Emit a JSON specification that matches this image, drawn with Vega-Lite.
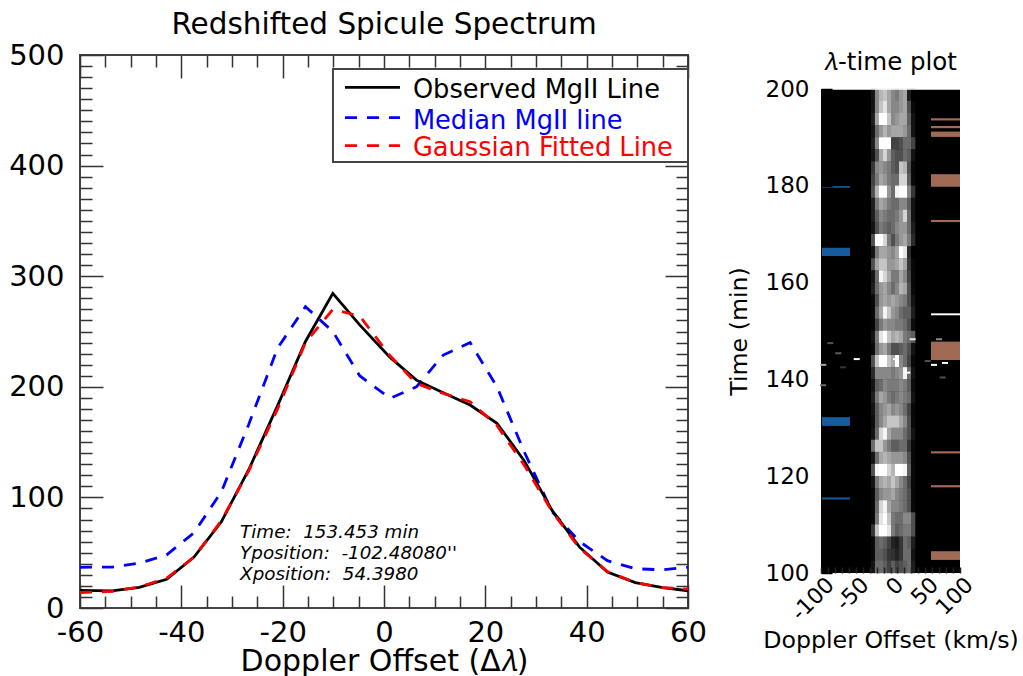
{"$schema":"https://vega.github.io/schema/vega-lite/v6.json","padding":{"left":7,"top":8,"right":0,"bottom":0},"background":"white","spacing":19,
"config":{"font":"DejaVu Sans","axis":{"domain":false,"grid":false,"labelFont":"DejaVu Sans","titleFont":"DejaVu Sans","labelColor":"black","titleColor":"black","titleFontWeight":"normal","labelOverlap":false,"labelFlush":false,"labelBound":false,"tickColor":"#333333","tickWidth":1.5}},
"datasets":{"spectrum":[
{"x":-60,"y":16,"s":"obs"},{"x":-53.7,"y":15.5,"s":"obs"},{"x":-48.3,"y":18.7,"s":"obs"},{"x":-42.9,"y":26,"s":"obs"},{"x":-37.5,"y":46,"s":"obs"},{"x":-32.1,"y":78,"s":"obs"},{"x":-26.7,"y":125,"s":"obs"},{"x":-21,"y":183,"s":"obs"},{"x":-15.5,"y":241,"s":"obs"},{"x":-10.1,"y":284.5,"s":"obs"},{"x":-4.8,"y":256,"s":"obs"},{"x":1.2,"y":226.6,"s":"obs"},{"x":6.4,"y":206,"s":"obs"},{"x":11.7,"y":194.7,"s":"obs"},{"x":17,"y":183.5,"s":"obs"},{"x":22.3,"y":167,"s":"obs"},{"x":27.7,"y":133,"s":"obs"},{"x":33.2,"y":88,"s":"obs"},{"x":38.6,"y":55,"s":"obs"},{"x":44.1,"y":32.5,"s":"obs"},{"x":49.6,"y":23,"s":"obs"},{"x":55,"y":18.5,"s":"obs"},{"x":60,"y":15.6,"s":"obs"},
{"x":-60,"y":36.8,"s":"med"},{"x":-53.7,"y":37,"s":"med"},{"x":-48.3,"y":40.5,"s":"med"},{"x":-42.9,"y":48,"s":"med"},{"x":-37.5,"y":68,"s":"med"},{"x":-32.1,"y":105,"s":"med"},{"x":-26.7,"y":166,"s":"med"},{"x":-21,"y":235,"s":"med"},{"x":-15.5,"y":272.4,"s":"med"},{"x":-10.1,"y":250,"s":"med"},{"x":-4.8,"y":210,"s":"med"},{"x":1.2,"y":189.6,"s":"med"},{"x":6.4,"y":200,"s":"med"},{"x":11.7,"y":228.7,"s":"med"},{"x":17,"y":240,"s":"med"},{"x":22.3,"y":200,"s":"med"},{"x":27.7,"y":141,"s":"med"},{"x":33.2,"y":87,"s":"med"},{"x":38.6,"y":60,"s":"med"},{"x":44.1,"y":42.8,"s":"med"},{"x":49.6,"y":35.5,"s":"med"},{"x":55,"y":34.5,"s":"med"},{"x":60,"y":36.8,"s":"med"},
{"x":-60,"y":14,"s":"fit"},{"x":-53.7,"y":15,"s":"fit"},{"x":-48.3,"y":19,"s":"fit"},{"x":-42.9,"y":27,"s":"fit"},{"x":-37.5,"y":46,"s":"fit"},{"x":-32.1,"y":79,"s":"fit"},{"x":-26.7,"y":124,"s":"fit"},{"x":-21,"y":180,"s":"fit"},{"x":-15.5,"y":240,"s":"fit"},{"x":-10.1,"y":270,"s":"fit"},{"x":-4.8,"y":264,"s":"fit"},{"x":1.2,"y":228,"s":"fit"},{"x":6.4,"y":203,"s":"fit"},{"x":11.7,"y":194,"s":"fit"},{"x":17,"y":186.5,"s":"fit"},{"x":22.3,"y":165,"s":"fit"},{"x":27.7,"y":129,"s":"fit"},{"x":33.2,"y":87,"s":"fit"},{"x":38.6,"y":54,"s":"fit"},{"x":44.1,"y":33,"s":"fit"},{"x":49.6,"y":23,"s":"fit"},{"x":55,"y":18.5,"s":"fit"},{"x":60,"y":17,"s":"fit"}],
"cells":[
{"d":-25,"t":198.75,"v":0.05},{"d":-19.3,"t":198.75,"v":0.5},{"d":-13.5,"t":198.75,"v":0.65},{"d":-7.7,"t":198.75,"v":0.7},{"d":-2,"t":198.75,"v":0.6},{"d":3.8,"t":198.75,"v":0.5},{"d":9.6,"t":198.75,"v":0.45},{"d":15.3,"t":198.75,"v":0.55},{"d":21.1,"t":198.75,"v":0.6},{"d":26.8,"t":198.75,"v":0.1},{"d":32.6,"t":198.75,"v":0},
{"d":-25,"t":196.25,"v":0.05},{"d":-19.3,"t":196.25,"v":0.5},{"d":-13.5,"t":196.25,"v":0.7},{"d":-7.7,"t":196.25,"v":0.8},{"d":-2,"t":196.25,"v":0.6},{"d":3.8,"t":196.25,"v":0.5},{"d":9.6,"t":196.25,"v":0.5},{"d":15.3,"t":196.25,"v":0.55},{"d":21.1,"t":196.25,"v":0.6},{"d":26.8,"t":196.25,"v":0.3},{"d":32.6,"t":196.25,"v":0.02},
{"d":-25,"t":193.75,"v":0.1},{"d":-19.3,"t":193.75,"v":0.6},{"d":-13.5,"t":193.75,"v":0.9},{"d":-7.7,"t":193.75,"v":1},{"d":-2,"t":193.75,"v":0.7},{"d":3.8,"t":193.75,"v":0.5},{"d":9.6,"t":193.75,"v":0.55},{"d":15.3,"t":193.75,"v":0.6},{"d":21.1,"t":193.75,"v":0.6},{"d":26.8,"t":193.75,"v":0.35},{"d":32.6,"t":193.75,"v":0.05},
{"d":-25,"t":191.25,"v":0.05},{"d":-19.3,"t":191.25,"v":0.4},{"d":-13.5,"t":191.25,"v":0.55},{"d":-7.7,"t":191.25,"v":0.65},{"d":-2,"t":191.25,"v":0.55},{"d":3.8,"t":191.25,"v":0.6},{"d":9.6,"t":191.25,"v":0.6},{"d":15.3,"t":191.25,"v":0.6},{"d":21.1,"t":191.25,"v":0.55},{"d":26.8,"t":191.25,"v":0.4},{"d":32.6,"t":191.25,"v":0.05},
{"d":-25,"t":188.75,"v":0.1},{"d":-19.3,"t":188.75,"v":0.5},{"d":-13.5,"t":188.75,"v":0.95},{"d":-7.7,"t":188.75,"v":1},{"d":-2,"t":188.75,"v":0.9},{"d":3.8,"t":188.75,"v":0.25},{"d":9.6,"t":188.75,"v":0.25},{"d":15.3,"t":188.75,"v":0.3},{"d":21.1,"t":188.75,"v":0.4},{"d":26.8,"t":188.75,"v":0.4},{"d":32.6,"t":188.75,"v":0.25},
{"d":-25,"t":186.25,"v":0.05},{"d":-19.3,"t":186.25,"v":0.3},{"d":-13.5,"t":186.25,"v":0.6},{"d":-7.7,"t":186.25,"v":0.75},{"d":-2,"t":186.25,"v":0.55},{"d":3.8,"t":186.25,"v":0.35},{"d":9.6,"t":186.25,"v":0.3},{"d":15.3,"t":186.25,"v":0.3},{"d":21.1,"t":186.25,"v":0.4},{"d":26.8,"t":186.25,"v":0.35},{"d":32.6,"t":186.25,"v":0.05},
{"d":-25,"t":183.75,"v":0.2},{"d":-19.3,"t":183.75,"v":0.5},{"d":-13.5,"t":183.75,"v":0.55},{"d":-7.7,"t":183.75,"v":0.5},{"d":-2,"t":183.75,"v":0.45},{"d":3.8,"t":183.75,"v":0.35},{"d":9.6,"t":183.75,"v":0.3},{"d":15.3,"t":183.75,"v":0.7},{"d":21.1,"t":183.75,"v":0.65},{"d":26.8,"t":183.75,"v":0.3},{"d":32.6,"t":183.75,"v":0.02},
{"d":-25,"t":181.25,"v":0.25},{"d":-19.3,"t":181.25,"v":0.45},{"d":-13.5,"t":181.25,"v":0.6},{"d":-7.7,"t":181.25,"v":0.55},{"d":-2,"t":181.25,"v":0.45},{"d":3.8,"t":181.25,"v":0.4},{"d":9.6,"t":181.25,"v":0.4},{"d":15.3,"t":181.25,"v":0.75},{"d":21.1,"t":181.25,"v":0.75},{"d":26.8,"t":181.25,"v":0.35},{"d":32.6,"t":181.25,"v":0.02},
{"d":-25,"t":178.75,"v":0.3},{"d":-19.3,"t":178.75,"v":0.65},{"d":-13.5,"t":178.75,"v":0.95},{"d":-7.7,"t":178.75,"v":0.9},{"d":-2,"t":178.75,"v":0.55},{"d":3.8,"t":178.75,"v":0.4},{"d":9.6,"t":178.75,"v":0.85},{"d":15.3,"t":178.75,"v":1},{"d":21.1,"t":178.75,"v":0.95},{"d":26.8,"t":178.75,"v":0.5},{"d":32.6,"t":178.75,"v":0.2},
{"d":-25,"t":176.25,"v":0.1},{"d":-19.3,"t":176.25,"v":0.45},{"d":-13.5,"t":176.25,"v":0.6},{"d":-7.7,"t":176.25,"v":0.55},{"d":-2,"t":176.25,"v":0.45},{"d":3.8,"t":176.25,"v":0.4},{"d":9.6,"t":176.25,"v":0.4},{"d":15.3,"t":176.25,"v":0.5},{"d":21.1,"t":176.25,"v":0.5},{"d":26.8,"t":176.25,"v":0.35},{"d":32.6,"t":176.25,"v":0.05},
{"d":-25,"t":173.75,"v":0.1},{"d":-19.3,"t":173.75,"v":0.35},{"d":-13.5,"t":173.75,"v":0.5},{"d":-7.7,"t":173.75,"v":0.45},{"d":-2,"t":173.75,"v":0.4},{"d":3.8,"t":173.75,"v":0.4},{"d":9.6,"t":173.75,"v":0.45},{"d":15.3,"t":173.75,"v":0.55},{"d":21.1,"t":173.75,"v":0.75},{"d":26.8,"t":173.75,"v":0.4},{"d":32.6,"t":173.75,"v":0.05},
{"d":-25,"t":171.25,"v":0.05},{"d":-19.3,"t":171.25,"v":0.3},{"d":-13.5,"t":171.25,"v":0.45},{"d":-7.7,"t":171.25,"v":0.4},{"d":-2,"t":171.25,"v":0.35},{"d":3.8,"t":171.25,"v":0.4},{"d":9.6,"t":171.25,"v":0.5},{"d":15.3,"t":171.25,"v":0.55},{"d":21.1,"t":171.25,"v":0.55},{"d":26.8,"t":171.25,"v":0.4},{"d":32.6,"t":171.25,"v":0.1},
{"d":-25,"t":168.75,"v":0.3},{"d":-19.3,"t":168.75,"v":0.9},{"d":-13.5,"t":168.75,"v":0.95},{"d":-7.7,"t":168.75,"v":0.75},{"d":-2,"t":168.75,"v":0.45},{"d":3.8,"t":168.75,"v":0.3},{"d":9.6,"t":168.75,"v":0.45},{"d":15.3,"t":168.75,"v":0.55},{"d":21.1,"t":168.75,"v":0.6},{"d":26.8,"t":168.75,"v":0.45},{"d":32.6,"t":168.75,"v":0.15},
{"d":-25,"t":166.25,"v":0.05},{"d":-19.3,"t":166.25,"v":0.45},{"d":-13.5,"t":166.25,"v":0.6},{"d":-7.7,"t":166.25,"v":0.6},{"d":-2,"t":166.25,"v":0.55},{"d":3.8,"t":166.25,"v":0.5},{"d":9.6,"t":166.25,"v":0.6},{"d":15.3,"t":166.25,"v":0.9},{"d":21.1,"t":166.25,"v":0.8},{"d":26.8,"t":166.25,"v":0.15},{"d":32.6,"t":166.25,"v":0},
{"d":-25,"t":163.75,"v":0.3},{"d":-19.3,"t":163.75,"v":0.6},{"d":-13.5,"t":163.75,"v":0.7},{"d":-7.7,"t":163.75,"v":0.7},{"d":-2,"t":163.75,"v":0.55},{"d":3.8,"t":163.75,"v":0.55},{"d":9.6,"t":163.75,"v":0.6},{"d":15.3,"t":163.75,"v":0.7},{"d":21.1,"t":163.75,"v":0.6},{"d":26.8,"t":163.75,"v":0.2},{"d":32.6,"t":163.75,"v":0.02},
{"d":-25,"t":161.25,"v":0.05},{"d":-19.3,"t":161.25,"v":0.4},{"d":-13.5,"t":161.25,"v":0.85},{"d":-7.7,"t":161.25,"v":0.75},{"d":-2,"t":161.25,"v":0.6},{"d":3.8,"t":161.25,"v":0.45},{"d":9.6,"t":161.25,"v":0.45},{"d":15.3,"t":161.25,"v":0.6},{"d":21.1,"t":161.25,"v":0.5},{"d":26.8,"t":161.25,"v":0.25},{"d":32.6,"t":161.25,"v":0.02},
{"d":-25,"t":158.75,"v":0.1},{"d":-19.3,"t":158.75,"v":0.4},{"d":-13.5,"t":158.75,"v":0.55},{"d":-7.7,"t":158.75,"v":0.6},{"d":-2,"t":158.75,"v":0.5},{"d":3.8,"t":158.75,"v":0.4},{"d":9.6,"t":158.75,"v":0.5},{"d":15.3,"t":158.75,"v":0.65},{"d":21.1,"t":158.75,"v":0.6},{"d":26.8,"t":158.75,"v":0.3},{"d":32.6,"t":158.75,"v":0.02},
{"d":-25,"t":156.25,"v":0.02},{"d":-19.3,"t":156.25,"v":0.3},{"d":-13.5,"t":156.25,"v":0.55},{"d":-7.7,"t":156.25,"v":0.6},{"d":-2,"t":156.25,"v":0.55},{"d":3.8,"t":156.25,"v":0.6},{"d":9.6,"t":156.25,"v":0.55},{"d":15.3,"t":156.25,"v":0.5},{"d":21.1,"t":156.25,"v":0.45},{"d":26.8,"t":156.25,"v":0.3},{"d":32.6,"t":156.25,"v":0.05},
{"d":-25,"t":153.75,"v":0.02},{"d":-19.3,"t":153.75,"v":0.4},{"d":-13.5,"t":153.75,"v":0.6},{"d":-7.7,"t":153.75,"v":0.85},{"d":-2,"t":153.75,"v":0.7},{"d":3.8,"t":153.75,"v":0.55},{"d":9.6,"t":153.75,"v":0.5},{"d":15.3,"t":153.75,"v":0.4},{"d":21.1,"t":153.75,"v":0.35},{"d":26.8,"t":153.75,"v":0.35},{"d":32.6,"t":153.75,"v":0.1},
{"d":-25,"t":151.25,"v":0.01},{"d":-19.3,"t":151.25,"v":0.25},{"d":-13.5,"t":151.25,"v":0.45},{"d":-7.7,"t":151.25,"v":0.55},{"d":-2,"t":151.25,"v":0.5},{"d":3.8,"t":151.25,"v":0.5},{"d":9.6,"t":151.25,"v":0.45},{"d":15.3,"t":151.25,"v":0.45},{"d":21.1,"t":151.25,"v":0.4},{"d":26.8,"t":151.25,"v":0.3},{"d":32.6,"t":151.25,"v":0.03},
{"d":-25,"t":148.75,"v":0.05},{"d":-19.3,"t":148.75,"v":0.45},{"d":-13.5,"t":148.75,"v":0.8},{"d":-7.7,"t":148.75,"v":0.95},{"d":-2,"t":148.75,"v":0.7},{"d":3.8,"t":148.75,"v":0.6},{"d":9.6,"t":148.75,"v":0.65},{"d":15.3,"t":148.75,"v":0.6},{"d":21.1,"t":148.75,"v":0.45},{"d":26.8,"t":148.75,"v":0.4},{"d":32.6,"t":148.75,"v":0.35},
{"d":-25,"t":146.25,"v":0.02},{"d":-19.3,"t":146.25,"v":0.4},{"d":-13.5,"t":146.25,"v":0.55},{"d":-7.7,"t":146.25,"v":0.6},{"d":-2,"t":146.25,"v":0.45},{"d":3.8,"t":146.25,"v":0.3},{"d":9.6,"t":146.25,"v":0.3},{"d":15.3,"t":146.25,"v":0.35},{"d":21.1,"t":146.25,"v":0.4},{"d":26.8,"t":146.25,"v":0.3},{"d":32.6,"t":146.25,"v":0.05},
{"d":-25,"t":143.75,"v":0.3},{"d":-19.3,"t":143.75,"v":0.7},{"d":-13.5,"t":143.75,"v":0.9},{"d":-7.7,"t":143.75,"v":0.95},{"d":-2,"t":143.75,"v":0.7},{"d":3.8,"t":143.75,"v":0.6},{"d":9.6,"t":143.75,"v":0.9},{"d":15.3,"t":143.75,"v":0.5},{"d":21.1,"t":143.75,"v":0.4},{"d":26.8,"t":143.75,"v":0.25},{"d":32.6,"t":143.75,"v":0.02},
{"d":-25,"t":141.25,"v":0.15},{"d":-19.3,"t":141.25,"v":0.5},{"d":-13.5,"t":141.25,"v":0.5},{"d":-7.7,"t":141.25,"v":0.5},{"d":-2,"t":141.25,"v":0.5},{"d":3.8,"t":141.25,"v":0.45},{"d":9.6,"t":141.25,"v":0.5},{"d":15.3,"t":141.25,"v":0.55},{"d":21.1,"t":141.25,"v":0.85},{"d":26.8,"t":141.25,"v":0.4},{"d":32.6,"t":141.25,"v":0.05},
{"d":-25,"t":138.75,"v":0.05},{"d":-19.3,"t":138.75,"v":0.35},{"d":-13.5,"t":138.75,"v":0.4},{"d":-7.7,"t":138.75,"v":0.5},{"d":-2,"t":138.75,"v":0.45},{"d":3.8,"t":138.75,"v":0.45},{"d":9.6,"t":138.75,"v":0.45},{"d":15.3,"t":138.75,"v":0.5},{"d":21.1,"t":138.75,"v":0.45},{"d":26.8,"t":138.75,"v":0.35},{"d":32.6,"t":138.75,"v":0.03},
{"d":-25,"t":136.25,"v":0.1},{"d":-19.3,"t":136.25,"v":0.45},{"d":-13.5,"t":136.25,"v":0.6},{"d":-7.7,"t":136.25,"v":0.55},{"d":-2,"t":136.25,"v":0.45},{"d":3.8,"t":136.25,"v":0.4},{"d":9.6,"t":136.25,"v":0.45},{"d":15.3,"t":136.25,"v":0.5},{"d":21.1,"t":136.25,"v":0.45},{"d":26.8,"t":136.25,"v":0.4},{"d":32.6,"t":136.25,"v":0.05},
{"d":-25,"t":133.75,"v":0.05},{"d":-19.3,"t":133.75,"v":0.35},{"d":-13.5,"t":133.75,"v":0.5},{"d":-7.7,"t":133.75,"v":0.55},{"d":-2,"t":133.75,"v":0.6},{"d":3.8,"t":133.75,"v":0.5},{"d":9.6,"t":133.75,"v":0.55},{"d":15.3,"t":133.75,"v":0.5},{"d":21.1,"t":133.75,"v":0.4},{"d":26.8,"t":133.75,"v":0.25},{"d":32.6,"t":133.75,"v":0.02},
{"d":-25,"t":131.25,"v":0.03},{"d":-19.3,"t":131.25,"v":0.35},{"d":-13.5,"t":131.25,"v":0.5},{"d":-7.7,"t":131.25,"v":0.6},{"d":-2,"t":131.25,"v":0.7},{"d":3.8,"t":131.25,"v":0.7},{"d":9.6,"t":131.25,"v":0.7},{"d":15.3,"t":131.25,"v":0.6},{"d":21.1,"t":131.25,"v":0.5},{"d":26.8,"t":131.25,"v":0.3},{"d":32.6,"t":131.25,"v":0.02},
{"d":-25,"t":128.75,"v":0.05},{"d":-19.3,"t":128.75,"v":0.4},{"d":-13.5,"t":128.75,"v":0.75},{"d":-7.7,"t":128.75,"v":0.85},{"d":-2,"t":128.75,"v":0.6},{"d":3.8,"t":128.75,"v":0.5},{"d":9.6,"t":128.75,"v":0.5},{"d":15.3,"t":128.75,"v":0.5},{"d":21.1,"t":128.75,"v":0.4},{"d":26.8,"t":128.75,"v":0.3},{"d":32.6,"t":128.75,"v":0.05},
{"d":-25,"t":126.25,"v":0.4},{"d":-19.3,"t":126.25,"v":0.7},{"d":-13.5,"t":126.25,"v":0.7},{"d":-7.7,"t":126.25,"v":0.55},{"d":-2,"t":126.25,"v":0.45},{"d":3.8,"t":126.25,"v":0.35},{"d":9.6,"t":126.25,"v":0.35},{"d":15.3,"t":126.25,"v":0.4},{"d":21.1,"t":126.25,"v":0.4},{"d":26.8,"t":126.25,"v":0.2},{"d":32.6,"t":126.25,"v":0.02},
{"d":-25,"t":123.75,"v":0.05},{"d":-19.3,"t":123.75,"v":0.4},{"d":-13.5,"t":123.75,"v":0.6},{"d":-7.7,"t":123.75,"v":0.65},{"d":-2,"t":123.75,"v":0.6},{"d":3.8,"t":123.75,"v":0.55},{"d":9.6,"t":123.75,"v":0.55},{"d":15.3,"t":123.75,"v":0.55},{"d":21.1,"t":123.75,"v":0.5},{"d":26.8,"t":123.75,"v":0.3},{"d":32.6,"t":123.75,"v":0.02},
{"d":-25,"t":121.25,"v":0.3},{"d":-19.3,"t":121.25,"v":0.85},{"d":-13.5,"t":121.25,"v":1},{"d":-7.7,"t":121.25,"v":1},{"d":-2,"t":121.25,"v":0.75},{"d":3.8,"t":121.25,"v":0.65},{"d":9.6,"t":121.25,"v":0.9},{"d":15.3,"t":121.25,"v":0.9},{"d":21.1,"t":121.25,"v":0.85},{"d":26.8,"t":121.25,"v":0.35},{"d":32.6,"t":121.25,"v":0.02},
{"d":-25,"t":118.75,"v":0.05},{"d":-19.3,"t":118.75,"v":0.45},{"d":-13.5,"t":118.75,"v":0.6},{"d":-7.7,"t":118.75,"v":0.65},{"d":-2,"t":118.75,"v":0.6},{"d":3.8,"t":118.75,"v":0.7},{"d":9.6,"t":118.75,"v":0.6},{"d":15.3,"t":118.75,"v":0.5},{"d":21.1,"t":118.75,"v":0.4},{"d":26.8,"t":118.75,"v":0.25},{"d":32.6,"t":118.75,"v":0.02},
{"d":-25,"t":116.25,"v":0.02},{"d":-19.3,"t":116.25,"v":0.35},{"d":-13.5,"t":116.25,"v":0.5},{"d":-7.7,"t":116.25,"v":0.55},{"d":-2,"t":116.25,"v":0.55},{"d":3.8,"t":116.25,"v":0.6},{"d":9.6,"t":116.25,"v":0.5},{"d":15.3,"t":116.25,"v":0.45},{"d":21.1,"t":116.25,"v":0.4},{"d":26.8,"t":116.25,"v":0.3},{"d":32.6,"t":116.25,"v":0.02},
{"d":-25,"t":113.75,"v":0.02},{"d":-19.3,"t":113.75,"v":0.4},{"d":-13.5,"t":113.75,"v":0.75},{"d":-7.7,"t":113.75,"v":0.85},{"d":-2,"t":113.75,"v":0.6},{"d":3.8,"t":113.75,"v":0.5},{"d":9.6,"t":113.75,"v":0.5},{"d":15.3,"t":113.75,"v":0.45},{"d":21.1,"t":113.75,"v":0.4},{"d":26.8,"t":113.75,"v":0.3},{"d":32.6,"t":113.75,"v":0.02},
{"d":-25,"t":111.25,"v":0.02},{"d":-19.3,"t":111.25,"v":0.45},{"d":-13.5,"t":111.25,"v":0.8},{"d":-7.7,"t":111.25,"v":0.9},{"d":-2,"t":111.25,"v":0.7},{"d":3.8,"t":111.25,"v":0.45},{"d":9.6,"t":111.25,"v":0.4},{"d":15.3,"t":111.25,"v":0.4},{"d":21.1,"t":111.25,"v":0.5},{"d":26.8,"t":111.25,"v":0.5},{"d":32.6,"t":111.25,"v":0.3},
{"d":-25,"t":108.75,"v":0.2},{"d":-19.3,"t":108.75,"v":0.7},{"d":-13.5,"t":108.75,"v":1},{"d":-7.7,"t":108.75,"v":1},{"d":-2,"t":108.75,"v":0.8},{"d":3.8,"t":108.75,"v":0.45},{"d":9.6,"t":108.75,"v":0.35},{"d":15.3,"t":108.75,"v":0.4},{"d":21.1,"t":108.75,"v":0.45},{"d":26.8,"t":108.75,"v":0.45},{"d":32.6,"t":108.75,"v":0.3},
{"d":-25,"t":106.25,"v":0.02},{"d":-19.3,"t":106.25,"v":0.35},{"d":-13.5,"t":106.25,"v":0.4},{"d":-7.7,"t":106.25,"v":0.35},{"d":-2,"t":106.25,"v":0.25},{"d":3.8,"t":106.25,"v":0.12},{"d":9.6,"t":106.25,"v":0.08},{"d":15.3,"t":106.25,"v":0.2},{"d":21.1,"t":106.25,"v":0.4},{"d":26.8,"t":106.25,"v":0.35},{"d":32.6,"t":106.25,"v":0.1},
{"d":-25,"t":103.75,"v":0.02},{"d":-19.3,"t":103.75,"v":0.35},{"d":-13.5,"t":103.75,"v":0.35},{"d":-7.7,"t":103.75,"v":0.3},{"d":-2,"t":103.75,"v":0.2},{"d":3.8,"t":103.75,"v":0.18},{"d":9.6,"t":103.75,"v":0.12},{"d":15.3,"t":103.75,"v":0.2},{"d":21.1,"t":103.75,"v":0.4},{"d":26.8,"t":103.75,"v":0.4},{"d":32.6,"t":103.75,"v":0.05},
{"d":-25,"t":101.25,"v":0.05},{"d":-19.3,"t":101.25,"v":0.4},{"d":-13.5,"t":101.25,"v":0.4},{"d":-7.7,"t":101.25,"v":0.35},{"d":-2,"t":101.25,"v":0.25},{"d":3.8,"t":101.25,"v":0.35},{"d":9.6,"t":101.25,"v":0.25},{"d":15.3,"t":101.25,"v":0.3},{"d":21.1,"t":101.25,"v":0.35},{"d":26.8,"t":101.25,"v":0.4},{"d":32.6,"t":101.25,"v":0.1}],
"specks":[{"d":-86.6,"t":147.5,"v":0.3},{"d":-75.1,"t":145.4,"v":0.35},{"d":-48.6,"t":144.2,"v":1},{"d":-96.7,"t":143,"v":0.6},{"d":-68.3,"t":142.5,"v":0.2},{"d":-97,"t":138.8,"v":0.4},{"d":69.8,"t":148.3,"v":0.5},{"d":53.5,"t":143.8,"v":0.3},{"d":62.6,"t":143,"v":1},{"d":78.4,"t":143.4,"v":0.9},{"d":75.1,"t":140.4,"v":0.3},{"d":31.9,"t":148.3,"v":0.8},{"d":7.9,"t":144.2,"v":1},{"d":24.2,"t":141.4,"v":1}],
"strips":[{"a":-84,"b":100,"t0":199.85,"t1":200.1,"k":"white"},{"a":-98.6,"b":-58.3,"t0":179.6,"t1":179.95,"k":"blue"},{"a":-98.6,"b":-58.3,"t0":165.5,"t1":167.2,"k":"blue"},{"a":-98.6,"b":-58.3,"t0":130.4,"t1":132.2,"k":"blue"},{"a":-98.6,"b":-58.3,"t0":115.2,"t1":115.6,"k":"blue"},{"a":58.3,"b":100,"t0":193.5,"t1":193.95,"k":"brown"},{"a":58.3,"b":100,"t0":191.9,"t1":192.35,"k":"brown"},{"a":58.3,"b":100,"t0":190.1,"t1":191.2,"k":"brown"},{"a":58.3,"b":100,"t0":179.8,"t1":182.4,"k":"brown"},{"a":58.3,"b":100,"t0":172.5,"t1":172.95,"k":"brown"},{"a":58.3,"b":100,"t0":153.25,"t1":153.65,"k":"white"},{"a":58.3,"b":100,"t0":144,"t1":147.8,"k":"brown"},{"a":58.3,"b":100,"t0":124.7,"t1":125.15,"k":"brown"},{"a":58.3,"b":100,"t0":117.7,"t1":118.15,"k":"brown"},{"a":58.3,"b":100,"t0":102.7,"t1":104.5,"k":"brown"}]},
"hconcat":[
{"width":608,"height":553,"view":{"stroke":"#444444","strokeWidth":2,"fill":"white"},
"title":{"text":"Redshifted Spicule Spectrum","font":"DejaVu Sans","fontSize":29.5,"fontWeight":"normal","color":"black","anchor":"middle","offset":1},
"resolve":{"axis":{"x":"independent","y":"independent"}},
"layer":[
{"data":{"name":"spectrum"},"transform":[{"filter":"datum.s==='med'"}],"mark":{"type":"line","color":"#0000ff","strokeWidth":2.8,"strokeDash":[12,10]},
"encoding":{"x":{"field":"x","type":"quantitative","scale":{"domain":[-60,60],"nice":false},"axis":{"orient":"bottom","values":[-60,-40,-20,0,20,40,60],"tickSize":-23,"labelFontSize":29,"labelPadding":33,"labelExpr":"toString(datum.value)","title":"Doppler Offset (Δ𝜆)","titleFontSize":30,"titlePadding":-1}},
"y":{"field":"y","type":"quantitative","scale":{"domain":[0,500],"nice":false},"axis":{"orient":"left","values":[0,100,200,300,400,500],"tickSize":-23,"labelFontSize":29,"labelPadding":39,"labelExpr":"toString(datum.value)","title":null}}}},
{"data":{"name":"spectrum"},"transform":[{"filter":"datum.s==='obs'"}],"mark":{"type":"line","color":"black","strokeWidth":2.8},
"encoding":{"x":{"field":"x","type":"quantitative","scale":{"domain":[-60,60],"nice":false},"axis":{"orient":"bottom","values":[-55,-50,-45,-35,-30,-25,-15,-10,-5,5,10,15,25,30,35,45,50,55],"tickSize":-12,"labels":false,"title":null}},
"y":{"field":"y","type":"quantitative","scale":{"domain":[0,500],"nice":false},"axis":{"orient":"left","values":[10,20,30,40,50,60,70,80,90,110,120,130,140,150,160,170,180,190,210,220,230,240,250,260,270,280,290,310,320,330,340,350,360,370,380,390,410,420,430,440,450,460,470,480,490],"tickSize":-12,"labels":false,"title":null}}}},
{"data":{"name":"spectrum"},"transform":[{"filter":"datum.s==='fit'"}],"mark":{"type":"line","color":"#ff0000","strokeWidth":2.8,"strokeDash":[12,10]},
"encoding":{"x":{"field":"x","type":"quantitative","scale":{"domain":[-60,60],"nice":false},"axis":{"orient":"top","values":[-60,-40,-20,0,20,40,60],"tickSize":-23,"labels":false,"title":null}},
"y":{"field":"y","type":"quantitative","scale":{"domain":[0,500],"nice":false},"axis":{"orient":"right","values":[0,100,200,300,400,500],"tickSize":-23,"labels":false,"title":null}}}},
{"data":{"values":[{"x0":-10.07,"x1":60,"y0":403.3,"y1":487.3}]},"mark":{"type":"rect","fill":"white","stroke":"#444444","strokeWidth":2},
"encoding":{"x":{"field":"x0","type":"quantitative","scale":{"domain":[-60,60],"nice":false},"axis":{"orient":"top","values":[-55,-50,-45,-35,-30,-25,-15,-10,-5,5,10,15,25,30,35,45,50,55],"tickSize":-12,"labels":false,"title":null}},"x2":{"field":"x1"},
"y":{"field":"y0","type":"quantitative","scale":{"domain":[0,500],"nice":false},"axis":{"orient":"right","values":[10,20,30,40,50,60,70,80,90,110,120,130,140,150,160,170,180,190,210,220,230,240,250,260,270,280,290,310,320,330,340,350,360,370,380,390,410,420,430,440,450,460,470,480,490],"tickSize":-12,"labels":false,"title":null}},"y2":{"field":"y1"}}},
{"data":{"values":[{"x":-7.7,"y":470.8},{"x":3.15,"y":470.8}]},"mark":{"type":"line","color":"black","strokeWidth":2.8},"encoding":{"x":{"field":"x","type":"quantitative","scale":{"domain":[-60,60],"nice":false},"axis":null},"y":{"field":"y","type":"quantitative","scale":{"domain":[0,500],"nice":false},"axis":null}}},
{"data":{"values":[{"x":-7.7,"y":443.3},{"x":3.15,"y":443.3}]},"mark":{"type":"line","color":"#0000ff","strokeWidth":2.8,"strokeDash":[12,10]},"encoding":{"x":{"field":"x","type":"quantitative","scale":{"domain":[-60,60],"nice":false},"axis":null},"y":{"field":"y","type":"quantitative","scale":{"domain":[0,500],"nice":false},"axis":null}}},
{"data":{"values":[{"x":-7.7,"y":418},{"x":3.15,"y":418}]},"mark":{"type":"line","color":"#ff0000","strokeWidth":2.8,"strokeDash":[12,10]},"encoding":{"x":{"field":"x","type":"quantitative","scale":{"domain":[-60,60],"nice":false},"axis":null},"y":{"field":"y","type":"quantitative","scale":{"domain":[0,500],"nice":false},"axis":null}}},
{"data":{"values":[{"x":5.7,"y":468,"label":"Observed MgII Line","c":"o"},{"x":5.7,"y":440.5,"label":"Median MgII line","c":"m"},{"x":5.7,"y":416,"label":"Gaussian Fitted Line","c":"f"}]},"mark":{"type":"text","align":"left","baseline":"middle","fontSize":25.7,"font":"DejaVu Sans"},"encoding":{"x":{"field":"x","type":"quantitative","scale":{"domain":[-60,60],"nice":false},"axis":null},"y":{"field":"y","type":"quantitative","scale":{"domain":[0,500],"nice":false},"axis":null},"text":{"field":"label"},"color":{"field":"c","type":"nominal","legend":null,"scale":{"domain":["o","m","f"],"range":["black","#0000ff","#ff0000"]}}}},
{"data":{"values":[{"x":-28.4,"y":63.3,"label":"Time:\u00a0 153.453 min"},{"x":-28.4,"y":44.3,"label":"Yposition:\u00a0 -102.48080''"},{"x":-28.4,"y":25.3,"label":"Xposition:\u00a0 54.3980"}]},"mark":{"type":"text","align":"left","baseline":"alphabetic","fontSize":18.3,"fontStyle":"italic","font":"DejaVu Sans","color":"black"},"encoding":{"x":{"field":"x","type":"quantitative","scale":{"domain":[-60,60],"nice":false},"axis":null},"y":{"field":"y","type":"quantitative","scale":{"domain":[0,500],"nice":false},"axis":null},"text":{"field":"label"}}}
]},
{"width":139,"height":518,"view":{"stroke":null,"fill":"white"},
"title":{"text":"𝜆-time plot","font":"DejaVu Sans","fontSize":24.5,"fontWeight":"normal","color":"black","anchor":"middle","offset":-20},
"resolve":{"axis":{"x":"independent","y":"independent"}},
"layer":[
{"data":{"values":[{"d0":-100,"d1":100,"t0":100,"t1":200}]},"mark":{"type":"rect","fill":"black"},
"encoding":{"x":{"field":"d0","type":"quantitative","scale":{"domain":[-100,100],"nice":false},"axis":null},"x2":{"field":"d1"},"y":{"field":"t0","type":"quantitative","scale":{"domain":[100,200],"nice":false,"zero":false,"range":[518,34]},"axis":null},"y2":{"field":"t1"}}},
{"data":{"name":"cells"},"mark":{"type":"rect","width":4.3,"height":12.5},
"encoding":{"x":{"field":"d","type":"quantitative","scale":{"domain":[-100,100],"nice":false},"axis":{"orient":"bottom","values":[-100,-50,0,50,100],"ticks":false,"labelFontSize":22,"labelAngle":-45,"labelAlign":"right","labelBaseline":"middle","labelOffset":9,"labelPadding":8,"labelExpr":"toString(datum.value)","title":"Doppler Offset (km/s)","titleFontSize":23.7,"titlePadding":4}},
"y":{"field":"t","type":"quantitative","scale":{"domain":[100,200],"nice":false,"zero":false,"range":[518,34]},"axis":{"orient":"left","zindex":1,"values":[100,120,140,160,180,200],"tickSize":-11,"tickColor":"black","labelFontSize":23,"labelPadding":23,"labelExpr":"toString(datum.value)","title":"Time (min)","titleFontSize":23.7,"titlePadding":14}},
"color":{"field":"v","type":"quantitative","legend":null,"scale":{"domain":[0,0.88],"clamp":true,"range":["black","white"]}}}},
{"data":{"name":"specks"},"mark":{"type":"rect","width":6,"height":2},
"encoding":{"x":{"field":"d","type":"quantitative","scale":{"domain":[-100,100],"nice":false},"axis":{"orient":"bottom","zindex":1,"values":[-100,-90,-80,-70,-60,-50,-40,-30,-20,-10,0,10,20,30,40,50,60,70,80,90,100],"tickSize":-6,"tickColor":"#222222","labels":false,"title":null}},
"y":{"field":"t","type":"quantitative","scale":{"domain":[100,200],"nice":false,"zero":false,"range":[518,34]},"axis":null},
"color":{"field":"v","type":"quantitative","legend":null,"scale":{"domain":[0,0.88],"clamp":true,"range":["black","white"]}}}},
{"data":{"name":"strips"},"mark":{"type":"rect"},
"encoding":{"x":{"field":"a","type":"quantitative","scale":{"domain":[-100,100],"nice":false},"axis":null},"x2":{"field":"b"},
"y":{"field":"t0","type":"quantitative","scale":{"domain":[100,200],"nice":false,"zero":false,"range":[518,34]},"axis":null},"y2":{"field":"t1"},
"fill":{"field":"k","type":"nominal","legend":null,"scale":{"domain":["blue","brown","white"],"range":["#175a9e","#a06a55","#ffffff"]}}}}
]}
]}
